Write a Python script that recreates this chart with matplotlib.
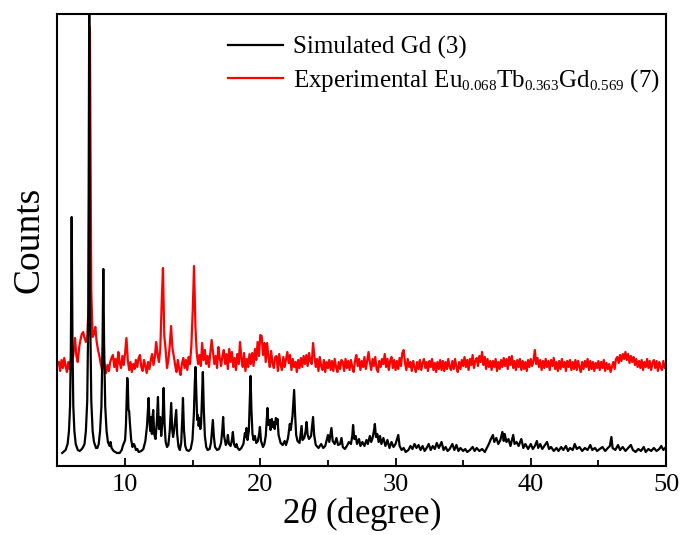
import numpy as np
import matplotlib
matplotlib.use("Agg")
import matplotlib.pyplot as plt
try:
    import matplotlib._mathtext as _mt
    _mt.SHRINK_FACTOR = 0.6
except Exception:
    pass

plt.rcParams['font.family'] = ['Liberation Serif', 'DejaVu Serif']
plt.rcParams['mathtext.fontset'] = 'custom'
plt.rcParams['mathtext.rm'] = 'Liberation Serif'
plt.rcParams['mathtext.it'] = 'Liberation Serif:italic'
plt.rcParams['mathtext.bf'] = 'Liberation Serif:bold'

# ---------------- data ----------------
# Simulated Gd (3): (2theta, counts) vertices
sim_2theta = [
    5.35, 5.6, 5.75, 5.85, 5.93, 5.99, 6.05, 6.11, 6.17, 6.25, 6.35, 6.5, 6.65, 6.8, 6.9,
    7.0, 7.1, 7.2, 7.28, 7.35, 7.42, 7.5, 7.6, 7.7, 7.85, 7.95, 8.05, 8.15, 8.25, 8.33,
    8.39, 8.45, 8.53, 8.63, 8.73, 8.85, 8.92, 9.0, 9.15, 9.4, 9.6, 9.75, 9.85, 9.92, 10.0,
    10.06, 10.12, 10.16, 10.2, 10.25, 10.3, 10.36, 10.45, 10.55, 10.65, 10.72, 10.8, 10.9, 11.0, 11.2,
    11.35, 11.5, 11.62, 11.7, 11.74, 11.8, 11.86, 11.93, 11.98, 12.04, 12.08, 12.15, 12.25, 12.35, 12.43,
    12.5, 12.56, 12.6, 12.67, 12.77, 12.85, 12.92, 13.0, 13.1, 13.2, 13.3, 13.41, 13.48, 13.55, 13.62,
    13.7, 13.78, 13.85, 13.95, 14.05, 14.15, 14.22, 14.28, 14.35, 14.45, 14.55, 14.7, 14.85, 14.98, 15.08,
    15.16, 15.21, 15.27, 15.33, 15.38, 15.44, 15.5, 15.56, 15.62, 15.7, 15.75, 15.82, 15.9, 16.0, 16.1,
    16.25, 16.35, 16.43, 16.49, 16.56, 16.65, 16.8, 16.95, 17.1, 17.2, 17.25, 17.32, 17.45, 17.55, 17.6,
    17.68, 17.8, 17.9, 17.97, 18.05, 18.15, 18.24, 18.32, 18.45, 18.6, 18.75, 18.86, 18.92, 18.98, 19.05,
    19.15, 19.22, 19.28, 19.34, 19.42, 19.5, 19.6, 19.7, 19.82, 19.92, 19.97, 20.05, 20.2, 20.3, 20.4,
    20.48, 20.53, 20.6, 20.7, 20.76, 20.85, 20.92, 21.0, 21.06, 21.15, 21.22, 21.27, 21.35, 21.5, 21.65,
    21.8, 21.9, 22.05, 22.18, 22.25, 22.38, 22.5, 22.57, 22.65, 22.75, 22.9, 23.05, 23.12, 23.25, 23.35,
    23.42, 23.5, 23.6, 23.75, 23.9, 23.98, 24.1, 24.3, 24.5, 24.65, 24.8, 25.0, 25.1, 25.26, 25.35,
    25.5, 25.63, 25.75, 25.9, 26.0, 26.1, 26.25, 26.4, 26.55, 26.7, 26.8, 26.86, 26.95, 27.05, 27.15,
    27.3, 27.4, 27.55, 27.7, 27.85, 27.95, 28.1, 28.2, 28.3, 28.4, 28.47, 28.55, 28.65, 28.75, 28.85,
    28.95, 29.1, 29.25, 29.4, 29.55, 29.7, 29.85, 30.0, 30.2, 30.3, 30.45, 30.6, 30.75, 30.95, 31.1,
    31.25, 31.4, 31.55, 31.7, 31.85, 32.0, 32.15, 32.3, 32.45, 32.6, 32.75, 32.9, 33.05, 33.2, 33.4,
    33.55, 33.7, 33.85, 34.0, 34.2, 34.35, 34.5, 34.65, 34.8, 35.0, 35.15, 35.3, 35.5, 35.7, 35.85,
    36.0, 36.2, 36.4, 36.6, 36.75, 36.9, 37.05, 37.2, 37.3, 37.45, 37.6, 37.75, 37.9, 38.0, 38.07,
    38.2, 38.35, 38.5, 38.7, 38.8, 38.95, 39.1, 39.3, 39.45, 39.6, 39.8, 40.0, 40.15, 40.3, 40.45,
    40.55, 40.7, 40.85, 41.0, 41.2, 41.35, 41.5, 41.7, 41.9, 42.05, 42.25, 42.4, 42.6, 42.75, 42.9,
    43.1, 43.25, 43.4, 43.6, 43.8, 44.0, 44.2, 44.4, 44.55, 44.75, 44.9, 45.1, 45.3, 45.5, 45.7,
    45.85, 45.96, 46.05, 46.25, 46.45, 46.6, 46.8, 47.0, 47.2, 47.4, 47.55, 47.75, 47.95, 48.15, 48.35,
    48.5, 48.7, 48.9, 49.1, 49.3, 49.5, 49.65, 49.8, 50.0,
]
sim_counts = [
    13, 16, 22, 35, 60, 120, 249, 120, 60, 35, 22, 16, 15, 17, 19,
    22, 35, 65, 150, 470, 150, 65, 35, 24, 18, 18, 22, 35, 60, 120,
    197, 120, 60, 35, 24, 20, 24, 18, 15, 13, 13, 16, 21, 23, 26,
    40, 70, 88, 82, 56, 55, 42, 26, 19, 22, 20, 16, 17, 14, 15,
    17, 25, 40, 60, 68, 45, 35, 49, 32, 50, 56, 32, 27, 45, 69,
    37, 40, 49, 30, 45, 78, 42, 24, 19, 21, 35, 63, 37, 29, 35,
    45, 56, 32, 19, 16, 23, 45, 68, 37, 20, 16, 15, 17, 26, 50,
    85, 99, 72, 46, 51, 40, 48, 37, 42, 75, 94, 57, 30, 19, 16,
    17, 23, 36, 46, 30, 19, 16, 17, 23, 38, 49, 30, 21, 25, 31,
    22, 20, 26, 34, 22, 19, 22, 18, 16, 18, 22, 33, 29, 38, 26,
    35, 65, 90, 57, 32, 26, 30, 23, 25, 33, 39, 25, 19, 22, 30,
    48, 58, 41, 46, 36, 47, 39, 44, 37, 48, 42, 47, 31, 23, 21,
    25, 21, 28, 42, 36, 50, 76, 52, 31, 25, 23, 40, 26, 28, 35,
    44, 31, 27, 30, 49, 31, 21, 18, 22, 18, 20, 31, 24, 38, 25,
    22, 28, 21, 22, 28, 19, 17, 20, 24, 22, 30, 41, 27, 30, 22,
    27, 20, 24, 20, 26, 22, 30, 24, 28, 35, 42, 29, 32, 24, 30,
    22, 28, 20, 26, 18, 24, 19, 22, 31, 20, 16, 18, 14, 16, 20,
    17, 22, 18, 21, 16, 20, 15, 18, 22, 16, 20, 17, 23, 18, 24,
    16, 19, 15, 17, 22, 16, 21, 15, 18, 15, 17, 14, 16, 19, 15,
    18, 15, 17, 14, 18, 22, 27, 31, 24, 28, 22, 26, 34, 25, 32,
    24, 27, 20, 31, 22, 24, 20, 27, 18, 22, 17, 22, 17, 20, 25,
    18, 22, 17, 20, 24, 17, 19, 15, 18, 15, 19, 16, 20, 15, 18,
    16, 22, 17, 19, 15, 18, 16, 21, 16, 18, 15, 17, 19, 15, 18,
    20, 29, 18, 16, 21, 16, 19, 15, 18, 21, 16, 14, 17, 15, 19,
    14, 17, 15, 18, 15, 17, 20, 16, 19,
]

# Experimental Eu0.068Tb0.363Gd0.569 (7): counts on a 0.1 degree step, 5.1 .. 50.0
exp_start, exp_stop = 5.1, 50.0
exp_counts = [
    104, 95, 106, 98, 108, 100, 94, 104, 97, 107,      # 5.1-6.0
    104, 114, 128, 110, 104, 118, 126, 132, 134, 128,  # 6.1-7.0
    124, 130, 160, 439, 175, 129, 132, 139, 124, 116,  # 7.1-8.0
    110, 102, 96, 106, 100, 93, 101, 95, 104, 108,     # 8.1-9.0
    111, 99, 107, 95, 114, 103, 98, 110, 101, 113,     # 9.1-10.0
    128, 106, 96, 104, 94, 102, 97, 106, 99, 108,      # 10.1-11.0
    111, 99, 95, 106, 100, 93, 104, 97, 106, 112,      # 11.1-12.0
    101, 109, 124, 112, 104, 116, 160, 198, 130, 116,  # 12.1-13.0
    98, 106, 120, 140, 118, 110, 101, 94, 106, 97,     # 13.1-14.0
    91, 102, 108, 98, 106, 96, 109, 102, 120, 155,     # 14.1-15.0
    200, 140, 113, 102, 111, 100, 123, 106, 116, 102,  # 15.1-16.0
    110, 99, 112, 126, 114, 102, 110, 98, 119, 108,    # 16.1-17.0
    100, 110, 116, 102, 112, 97, 117, 104, 114, 99,    # 17.1-18.0
    108, 96, 112, 102, 124, 107, 99, 113, 95, 107,     # 18.1-19.0
    99, 112, 102, 113, 100, 117, 106, 124, 110, 131,   # 19.1-20.0
    130, 111, 123, 104, 123, 109, 99, 115, 103, 98,    # 20.1-21.0
    109, 110, 95, 112, 101, 96, 109, 99, 107, 114,     # 21.1-22.0
    103, 111, 96, 107, 99, 104, 94, 106, 98, 108,      # 22.1-23.0
    99, 110, 102, 111, 100, 113, 105, 102, 123, 110,   # 23.1-24.0
    99, 107, 95, 109, 100, 96, 106, 94, 104, 98,       # 24.1-25.0
    106, 96, 105, 95, 107, 99, 94, 104, 97, 106,       # 25.1-26.0
    104, 95, 107, 98, 105, 96, 106, 99, 94, 105,       # 26.1-27.0
    111, 100, 107, 96, 105, 99, 109, 97, 105, 114,     # 27.1-28.0
    104, 96, 107, 100, 109, 97, 94, 105, 99, 107,      # 28.1-29.0
    102, 112, 99, 107, 96, 105, 109, 98, 106, 96,      # 29.1-30.0
    105, 97, 108, 100, 113, 116, 103, 96, 107, 99,     # 30.1-31.0
    104, 95, 105, 99, 94, 104, 97, 106, 96, 103,       # 31.1-32.0
    107, 98, 104, 95, 105, 99, 107, 96, 103, 94,       # 32.1-33.0
    104, 97, 106, 96, 105, 95, 104, 97, 107, 99,       # 33.1-34.0
    96, 105, 97, 107, 99, 94, 104, 97, 106, 100,       # 34.1-35.0
    109, 99, 106, 96, 107, 101, 111, 98, 105, 108,     # 35.1-36.0
    100, 110, 104, 114, 101, 109, 97, 107, 99, 105,    # 36.1-37.0
    96, 105, 99, 107, 95, 104, 97, 106, 99, 108,       # 37.1-38.0
    100, 107, 97, 109, 101, 110, 98, 105, 96, 106,     # 38.1-39.0
    99, 107, 96, 105, 97, 104, 95, 106, 99, 107,       # 39.1-40.0
    100, 105, 116, 102, 108, 99, 106, 96, 105, 98,     # 40.1-41.0
    107, 99, 105, 96, 106, 100, 108, 97, 104, 95,      # 41.1-42.0
    105, 97, 107, 99, 104, 95, 105, 99, 106, 96,       # 42.1-43.0
    104, 97, 106, 96, 105, 99, 94, 104, 97, 105,       # 43.1-44.0
    99, 107, 96, 105, 97, 104, 95, 103, 98, 105,       # 44.1-45.0
    96, 104, 98, 106, 95, 103, 97, 102, 94, 99,        # 45.1-46.0
    104, 97, 107, 109, 103, 111, 105, 112, 107, 114,   # 46.1-47.0
    106, 112, 103, 110, 104, 109, 101, 107, 99, 105,   # 47.1-48.0
    98, 106, 96, 104, 99, 107, 98, 105, 96, 103,       # 48.1-49.0
    106, 98, 105, 95, 104, 99, 96, 105, 98, 101,       # 49.1-50.0
]
exp_2theta = np.linspace(exp_start, exp_stop, len(exp_counts))

legend_labels = ["Simulated Gd (3)",
                 r"Experimental Eu$_{0.068}$Tb$_{0.363}$Gd$_{0.569}$ (7)"]
x_ticks = [10, 20, 30, 40, 50]

# ---------------- figure ----------------
fig = plt.figure(figsize=(6.81, 5.35), dpi=100)
ax = fig.add_axes([0.0844, 0.129, 0.8936, 0.8448])

l_exp, = ax.plot(exp_2theta, exp_counts, color='#ff0000', lw=1.6, zorder=2)
l_sim, = ax.plot(sim_2theta, sim_counts, color='black', lw=1.6, zorder=3)

ax.set_xlim(5, 50)
ax.set_ylim(0, 452)
ax.set_xticks(x_ticks)
ax.set_xticks([15, 25, 35, 45], minor=True)
ax.set_yticks([])
ax.tick_params(axis='x', which='major', direction='in', length=6, width=1.3,
               labelsize=19, pad=6, top=False)
ax.tick_params(axis='x', which='minor', direction='in', length=4, width=1.3, top=False)
for s in ax.spines.values():
    s.set_linewidth(1.5)

ax.set_xlabel(r"2$\it{\theta}$ (degree)", fontsize=25, labelpad=-1)
ax.set_ylabel("Counts", fontsize=27, labelpad=8)

leg = ax.legend([l_sim, l_exp], legend_labels, loc='upper left',
                bbox_to_anchor=(0.28, 0.952), frameon=False, fontsize=18,
                handlelength=2.2, handletextpad=0.4, labelspacing=0.35,
                borderaxespad=0, borderpad=0)

fig.savefig("out.png", dpi=100)
